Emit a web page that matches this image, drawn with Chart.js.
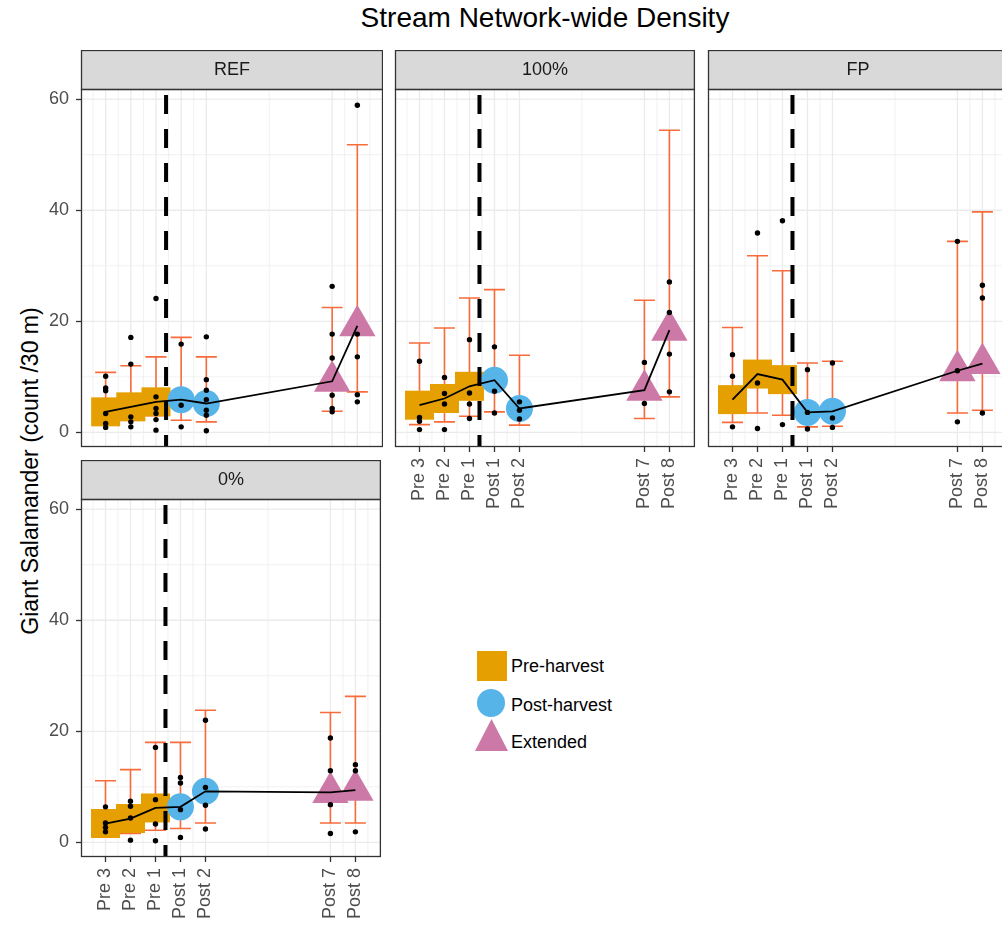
<!DOCTYPE html>
<html>
<head>
<meta charset="utf-8">
<script src="https://cdn.jsdelivr.net/npm/chart.js@4.4.1/dist/chart.umd.min.js"></script>
<style>
  html, body { margin: 0; padding: 0; background: #fff; overflow: hidden; }
  body { width: 1002px; height: 928px; position: relative; font-family: "Liberation Sans", Arial, sans-serif; }
  canvas { position: absolute; }
  #titulo { position: absolute; top: 4px; left: 545px; transform: translateX(-50%); font-size: 28px; line-height: 28px; color: #000; white-space: nowrap; }
  #ylab { position: absolute; left: 30px; top: 471px; transform: translate(-50%, -50%) rotate(-90deg); font-size: 23px; line-height: 23px; color: #000; white-space: nowrap; }
  .leg { position: absolute; left: 511px; font-size: 18px; line-height: 18px; color: #000; white-space: nowrap; }
  #legenda { position: absolute; left: 470px; top: 645px; }
</style>
</head>
<body>
<div id="titulo">Stream Network-wide Density</div>
<div id="ylab">Giant Salamander (count /30 m)</div>

<canvas id="gREF" width="362" height="467" style="left:21px;top:50px"></canvas>
<canvas id="g100" width="362" height="467" style="left:335px;top:50px"></canvas>
<canvas id="gFP" width="362" height="467" style="left:648px;top:50px"></canvas>
<canvas id="g0" width="362" height="467" style="left:21px;top:460px"></canvas>

<!-- legenda -->
<svg id="legenda" width="45" height="110">
  <rect x="7" y="6" width="30" height="30" fill="#E69F00"></rect>
  <circle cx="21" cy="58" r="14" fill="#56B4E9"></circle>
  <polygon points="21.5,74 5,106 38,106" fill="#CC79A7"></polygon>
</svg>
<div class="leg" style="top:657px">Pre-harvest</div>
<div class="leg" style="top:696px">Post-harvest</div>
<div class="leg" style="top:733px">Extended</div>

<script>
// categorias e posições (anos relativos à colheita)
const categorias = ["Pre 3", "Pre 2", "Pre 1", "Post 1", "Post 2", "Post 7", "Post 8"];
const anos = [-2, -1, 0, 1, 2, 7, 8];
const yTicks = [0, 20, 40, 60];
const idxPre = [0, 1, 2];
const idxPos = [3, 4];
const idxExt = [5, 6];
const linhaColheita = 0.4;

// REF
const refMedia = [3.7, 4.6, 5.5, 5.9, 5.2, 9.2, 19.2];
const refInf = [1.6, 2.3, 3.0, 2.2, 1.9, 3.8, 7.3];
const refSup = [10.8, 12.0, 13.6, 17.1, 13.6, 22.5, 51.8];
const refSitios = [
  [10.1, 8.0, 7.5, 3.4, 1.6, 0.9],
  [17.1, 12.3, 2.8, 1.9, 1.0],
  [24.1, 6.4, 4.3, 3.4, 2.3, 0.4],
  [15.9, 4.9, 1.0],
  [17.2, 9.5, 7.6, 5.9, 4.0, 3.1, 0.3],
  [26.3, 17.7, 13.4, 6.7, 4.3, 3.7],
  [58.9, 17.7, 13.6, 6.8, 5.5]
];

// 100%
const cemMedia = [4.9, 6.1, 8.3, 9.4, 4.3, 7.6, 18.4];
const cemInf = [1.4, 1.9, 2.9, 3.7, 1.3, 2.5, 6.4];
const cemSup = [16.1, 18.8, 24.2, 25.7, 13.9, 23.8, 54.4];
const cemSitios = [
  [12.8, 2.7, 2.0, 0.5],
  [9.9, 7.0, 5.1, 0.5],
  [16.7, 7.1, 5.1, 2.5],
  [15.4, 7.4, 3.5],
  [5.5, 4.0, 2.4],
  [12.6, 5.2],
  [27.1, 21.6, 14.1, 7.3]
];

// FP
const fpMedia = [5.9, 10.5, 9.5, 3.6, 3.8, 11.1, 12.4];
const fpInf = [1.8, 3.5, 3.1, 1.0, 1.1, 3.5, 4.0];
const fpSup = [18.9, 31.8, 29.1, 12.5, 12.8, 34.4, 39.7];
const fpSitios = [
  [14.0, 10.1, 1.0],
  [35.9, 8.9, 0.7],
  [38.1, 1.4],
  [11.3, 3.6, 0.6],
  [12.5, 2.6, 0.9],
  [34.4, 11.1, 1.9],
  [26.5, 24.2, 3.5]
];

// 0%
const zeroMedia = [3.4, 4.3, 6.2, 6.4, 9.2, 9.0, 9.4];
const zeroInf = [1.2, 1.6, 2.2, 2.5, 3.5, 3.5, 3.5];
const zeroSup = [11.1, 13.1, 18.0, 18.0, 23.8, 23.4, 26.3];
const zeroSitios = [
  [6.4, 3.5, 2.7, 1.9],
  [7.4, 6.5, 4.4, 0.4],
  [17.1, 7.7, 3.3, 0.3],
  [11.7, 10.7, 5.9, 0.9],
  [22.0, 9.9, 6.7, 2.4],
  [18.8, 12.9, 6.8, 1.6],
  [14.0, 12.9, 1.9]
];

const gradeMenorX = [-2.5, -1.5, -0.5, 0.5, 1.5, 4.5, 7.5, 8.5];
const gradeMenorY = [10, 30, 50];
const corErro = "#F86C3C";

Chart.defaults.font.family = '"Liberation Sans", Arial, sans-serif';

// grade, barras de erro, moldura e faixa do título do painel
const painelPlugin = {
  id: "painel",
  beforeDatasetsDraw(chart, args, opts) {
    const ctx = chart.ctx;
    const a = chart.chartArea;
    const x = chart.scales.x, y = chart.scales.y;
    ctx.save();
    ctx.strokeStyle = "#EBEBEB";
    ctx.lineWidth = 0.7;
    ctx.beginPath();
    gradeMenorX.forEach(v => { const p = x.getPixelForValue(v); ctx.moveTo(p, a.top); ctx.lineTo(p, a.bottom); });
    gradeMenorY.forEach(v => { const p = y.getPixelForValue(v); ctx.moveTo(a.left, p); ctx.lineTo(a.right, p); });
    ctx.stroke();
    ctx.lineWidth = 1.3;
    ctx.beginPath();
    anos.forEach(v => { const p = x.getPixelForValue(v); ctx.moveTo(p, a.top); ctx.lineTo(p, a.bottom); });
    yTicks.forEach(v => { const p = y.getPixelForValue(v); ctx.moveTo(a.left, p); ctx.lineTo(a.right, p); });
    ctx.stroke();

    // barras de erro (ficam por baixo dos marcadores)
    ctx.strokeStyle = corErro;
    ctx.lineWidth = 1.6;
    anos.forEach((v, i) => {
      const px = x.getPixelForValue(v);
      const p1 = y.getPixelForValue(opts.inf[i]);
      const p2 = y.getPixelForValue(opts.sup[i]);
      ctx.beginPath();
      ctx.moveTo(px, p1); ctx.lineTo(px, p2);
      ctx.moveTo(px - 10.5, p1); ctx.lineTo(px + 10.5, p1);
      ctx.moveTo(px - 10.5, p2); ctx.lineTo(px + 10.5, p2);
      ctx.stroke();
    });
    ctx.restore();
  },
  afterDraw(chart, args, opts) {
    const ctx = chart.ctx;
    const a = chart.chartArea;
    ctx.save();
    ctx.fillStyle = "#D9D9D9";
    ctx.fillRect(a.left, a.top - 39, a.right - a.left, 39);
    ctx.strokeStyle = "#333333";
    ctx.lineWidth = 1.3;
    ctx.strokeRect(a.left + 0.5, a.top - 39 + 0.5, a.right - a.left - 1, 39);
    ctx.strokeRect(a.left + 0.5, a.top + 0.5, a.right - a.left - 1, a.bottom - a.top - 1);
    ctx.fillStyle = "#1A1A1A";
    ctx.font = '18px "Liberation Sans", Arial, sans-serif';
    ctx.textAlign = "center";
    ctx.textBaseline = "middle";
    ctx.fillText(opts.titulo, (a.left + a.right) / 2, a.top - 19);
    ctx.restore();
  }
};

function pontos(idx, valores) {
  return idx.map(i => ({ x: anos[i], y: valores[i] }));
}

function criarPainel(id, titulo, media, inf, sup, sitios, mostrarX, mostrarY) {
  const ctx = document.getElementById(id).getContext("2d");
  const dadosSitios = sitios.flatMap((lista, i) => lista.map(v => ({ x: anos[i], y: v })));

  return new Chart(ctx, {
    type: "scatter",
    data: {
      datasets: [
        {
          type: "line",
          label: "média",
          data: pontos([0, 1, 2, 3, 4, 5, 6], media),
          borderColor: "#000",
          borderWidth: 1.8,
          pointRadius: 0,
          order: 1
        },
        {
          label: "sítios",
          data: dadosSitios,
          pointRadius: 2.7,
          pointBackgroundColor: "#000",
          pointBorderWidth: 0,
          order: 2
        },
        {
          type: "line",
          label: "colheita",
          data: [{ x: linhaColheita, y: -10 }, { x: linhaColheita, y: 70 }],
          borderColor: "#000",
          borderWidth: 4,
          borderDash: [19, 15],
          pointRadius: 0,
          clip: 0,
          order: 3
        },
        {
          label: "Extended",
          data: pontos(idxExt, media),
          pointStyle: "triangle",
          pointRadius: 21,
          pointBackgroundColor: "#CC79A7",
          pointBorderWidth: 0,
          order: 4
        },
        {
          label: "Post-harvest",
          data: pontos(idxPos, media),
          pointStyle: "circle",
          pointRadius: 13.5,
          pointBackgroundColor: "#56B4E9",
          pointBorderWidth: 0,
          order: 5
        },
        {
          label: "Pre-harvest",
          data: pontos(idxPre, media),
          pointStyle: "rect",
          pointRadius: 20.5,
          pointBackgroundColor: "#E69F00",
          pointBorderWidth: 0,
          order: 6
        }
      ]
    },
    options: {
      responsive: false,
      animation: false,
      devicePixelRatio: 1,
      layout: { autoPadding: false, padding: { top: 39, left: 0, right: 0, bottom: 0 } },
      plugins: {
        legend: { display: false },
        tooltip: { enabled: false },
        painel: { titulo: titulo, inf: inf, sup: sup }
      },
      scales: {
        x: {
          type: "linear",
          min: -2.98,
          max: 9.02,
          afterBuildTicks: s => { s.ticks = anos.map(v => ({ value: v })); },
          afterFit: s => { s.height = 70; },
          border: { display: false },
          grid: { drawOnChartArea: false, drawTicks: mostrarX, tickLength: 5, tickColor: "#333333", tickWidth: 1.3 },
          ticks: {
            display: mostrarX,
            autoSkip: false,
            minRotation: 90,
            maxRotation: 90,
            padding: 6,
            color: "#4D4D4D",
            font: { size: 18 },
            callback: v => categorias[anos.indexOf(v)]
          }
        },
        y: {
          type: "linear",
          min: -2.63,
          max: 61.83,
          afterBuildTicks: s => { s.ticks = yTicks.map(v => ({ value: v })); },
          afterFit: s => { s.width = 60; },
          border: { display: false },
          grid: { drawOnChartArea: false, drawTicks: mostrarY, tickLength: 5, tickColor: "#333333", tickWidth: 1.3 },
          ticks: {
            display: mostrarY,
            padding: 7,
            color: "#4D4D4D",
            font: { size: 18 },
            callback: v => String(v)
          }
        }
      }
    },
    plugins: [painelPlugin]
  });
}

criarPainel("gREF", "REF", refMedia, refInf, refSup, refSitios, false, true);
criarPainel("g100", "100%", cemMedia, cemInf, cemSup, cemSitios, true, false);
criarPainel("gFP", "FP", fpMedia, fpInf, fpSup, fpSitios, true, false);
criarPainel("g0", "0%", zeroMedia, zeroInf, zeroSup, zeroSitios, true, true);
</script>
</body>
</html>
